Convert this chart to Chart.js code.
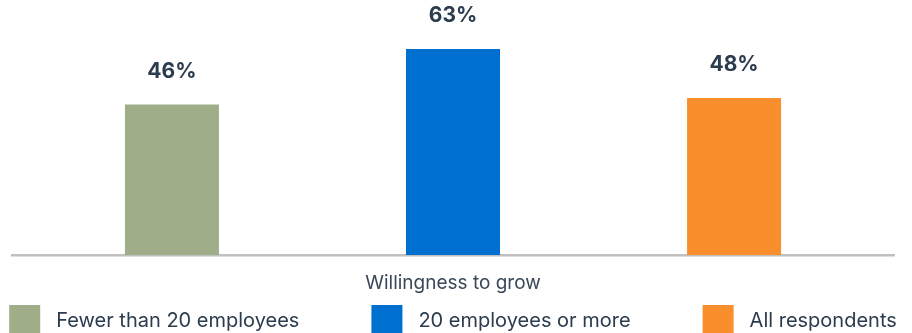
<!DOCTYPE html>
<html>
<head>
<meta charset="utf-8">
<script src="https://cdn.jsdelivr.net/npm/chart.js@4/dist/chart.umd.min.js"></script>
<style>
  html, body { margin: 0; padding: 0; background: #ffffff; }
  #wrap { width: 912px; height: 333px; overflow: hidden; }
  canvas { display: block; }
</style>
</head>
<body>
<div id="wrap"><canvas id="c" width="912" height="333"></canvas></div>
<script>
const categories = ["Willingness to grow"];
const seriesNames = ["Fewer than 20 employees", "20 employees or more", "All respondents"];
const fewerThan20 = [46];
const twentyOrMore = [63];
const allRespondents = [48];
const seriesColors = ["#9fad88", "#0070d0", "#f98e2d"];

const FONT = "Inter, 'DejaVu Sans', sans-serif";
const TEXT_COLOR = "#2b3c4e";

const valueLabels = {
  id: "valueLabels",
  afterDatasetsDraw(chart) {
    const ctx = chart.ctx;
    ctx.save();
    ctx.font = "bold 21px " + FONT;
    ctx.fillStyle = TEXT_COLOR;
    ctx.textAlign = "center";
    ctx.textBaseline = "alphabetic";
    chart.data.datasets.forEach((ds, di) => {
      const meta = chart.getDatasetMeta(di);
      meta.data.forEach((bar, i) => {
        ctx.fillText(ds.data[i] + "%", bar.x, bar.y - 27);
      });
    });
    ctx.restore();
  }
};

const bottomLegend = {
  id: "bottomLegend",
  afterDraw(chart) {
    const ctx = chart.ctx;
    ctx.save();
    ctx.font = "20px " + FONT;
    const box = 31, gapText = 16, gapItem = 72;
    const items = chart.data.datasets.map(ds => ({
      text: ds.label, color: ds.backgroundColor, w: box + gapText + ctx.measureText(ds.label).width
    }));
    const total = items.reduce((s, it) => s + it.w, 0) + gapItem * (items.length - 1);
    const area = chart.chartArea;
    let x = (area.left + area.right) / 2 - total / 2;
    const top = 305;
    items.forEach(it => {
      ctx.fillStyle = it.color;
      ctx.fillRect(x, top, box, box);
      ctx.fillStyle = TEXT_COLOR;
      ctx.textAlign = "left";
      ctx.textBaseline = "middle";
      ctx.fillText(it.text, x + box + gapText, top + box / 2);
      x += it.w + gapItem;
    });
    ctx.restore();
  }
};

new Chart(document.getElementById("c"), {
  type: "bar",
  data: {
    labels: categories,
    datasets: [
      { label: seriesNames[0], data: fewerThan20, backgroundColor: seriesColors[0] },
      { label: seriesNames[1], data: twentyOrMore, backgroundColor: seriesColors[1] },
      { label: seriesNames[2], data: allRespondents, backgroundColor: seriesColors[2] }
    ]
  },
  options: {
    responsive: false,
    animation: false,
    layout: { padding: { left: 12, right: 18, top: 0, bottom: 0 } },
    datasets: { bar: { categoryPercentage: 0.956, barPercentage: 0.3345 } },
    plugins: {
      legend: { display: false },
      tooltip: { enabled: false }
    },
    scales: {
      x: {
        grid: { display: false },
        border: { display: true, color: "#c0c0c0", width: 2.5 },
        ticks: { color: "#3a4858", font: { family: FONT, size: 19 }, padding: 9 },
        afterFit(scale) { scale.height = 78; }
      },
      y: {
        display: false,
        min: 0,
        max: 78
      }
    }
  },
  plugins: [valueLabels, bottomLegend]
});
</script>
</body>
</html>
